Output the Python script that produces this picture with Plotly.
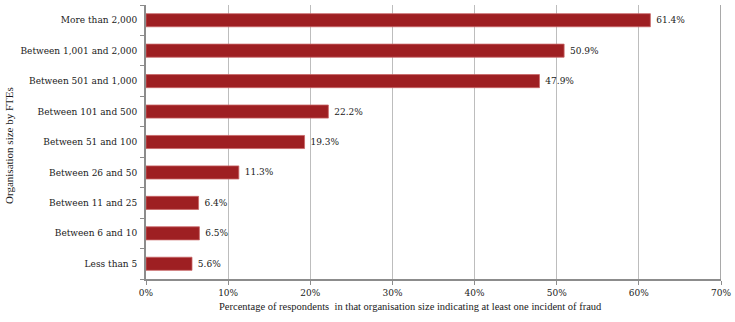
import plotly.graph_objects as go

categories = [
    "Less than 5",
    "Between 6 and 10",
    "Between 11 and 25",
    "Between 26 and 50",
    "Between 51 and 100",
    "Between 101 and 500",
    "Between 501 and 1,000",
    "Between 1,001 and 2,000",
    "More than 2,000",
]
values = [5.6, 6.5, 6.4, 11.3, 19.3, 22.2, 47.9, 50.9, 61.4]
x_ticks = [0, 10, 20, 30, 40, 50, 60, 70]
x_tick_labels = ["0%", "10%", "20%", "30%", "40%", "50%", "60%", "70%"]

font_family = "DejaVu Serif"
title_family = "Liberation Serif"
bar_color = "#9E1F22"
axis_color = "#8C8C8C"

W, H = 735, 322
M = dict(l=146, r=14, t=5, b=43)
plot_w = W - M["l"] - M["r"]
plot_h = H - M["t"] - M["b"]

fig = go.Figure(
    go.Bar(
        x=values,
        y=categories,
        orientation="h",
        width=0.43,
        marker=dict(color=bar_color, line=dict(color="#C86466", width=0.8)),
        text=[f"\u00a0{v:.1f}%" for v in values],
        textposition="outside",
        textfont=dict(family=font_family, size=9, color="#1a1a1a"),
        cliponaxis=False,
    )
)

fig.update_layout(
    width=W,
    height=H,
    margin=M,
    paper_bgcolor="white",
    plot_bgcolor="white",
    showlegend=False,
    font=dict(family=font_family, size=9, color="#1a1a1a"),
)

fig.update_xaxes(
    range=[0, 70],
    tickvals=x_ticks,
    ticktext=x_tick_labels,
    showgrid=True,
    gridcolor="#BDBDBD",
    gridwidth=1,
    showline=True,
    linecolor=axis_color,
    linewidth=2,
    ticks="outside",
    ticklen=4,
    tickcolor=axis_color,
    zeroline=False,
    automargin=False,
    tickfont=dict(family=font_family, size=9),
)

fig.update_yaxes(
    showline=True,
    linecolor=axis_color,
    linewidth=2,
    ticks="outside",
    tickson="boundaries",
    ticklen=4,
    tickcolor=axis_color,
    showgrid=False,
    automargin=False,
    ticklabelstandoff=5,
    tickfont=dict(family=font_family, size=9),
)

# darker closing line at the right end of the value axis
fig.add_shape(
    type="line", xref="x", yref="paper", x0=70, x1=70, y0=0, y1=1,
    line=dict(color=axis_color, width=1.5),
)

# axis titles (positions given in pixels, converted to paper units)
fig.add_annotation(
    text="Percentage of respondents  in that organisation size indicating at least one incident of fraud",
    xref="paper", yref="paper",
    x=(410 - M["l"]) / plot_w, y=-27 / plot_h,
    xanchor="center", yanchor="middle", showarrow=False,
    font=dict(family=title_family, size=10.5, color="#1a1a1a"),
)
fig.add_annotation(
    text="Organisation size by FTEs",
    xref="paper", yref="paper",
    x=(9 - M["l"]) / plot_w, y=0.5 - (4 / plot_h),
    xanchor="center", yanchor="middle", textangle=-90, showarrow=False,
    font=dict(family=title_family, size=11, color="#1a1a1a"),
)

fig.write_html("out.html")
